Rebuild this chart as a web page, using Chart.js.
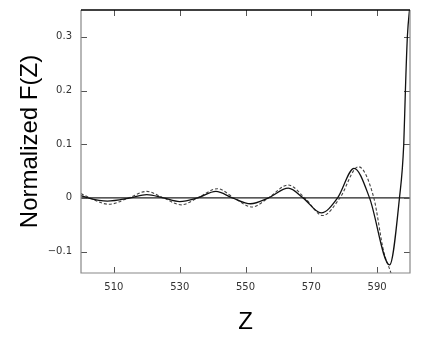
<!DOCTYPE html>
<html>
<head>
<meta charset="utf-8">
<script src="https://cdn.jsdelivr.net/npm/chart.js@4"></script>
<style>
  body { margin: 0; background: #fff; }
  #wrap { width: 440px; height: 348px; }
</style>
</head>
<body>
<div id="wrap"><canvas id="chart" width="440" height="348"></canvas></div>
<script>
// --- DATA ---
const xTicks = [510, 530, 550, 570, 590];
const yTicks = [-0.1, 0, 0.1, 0.2, 0.3];

const solidZ = [500, 502, 508, 515, 520, 525, 530, 535.5, 541, 546, 551.5, 557, 563, 567.5, 573, 578, 583, 587.7, 593.8, 596.8, 598.1, 598.6, 599.2, 600];
const solidF = [0.004, 0.0, -0.006, 0, 0.006, 0, -0.007, 0, 0.012, 0, -0.011, 0, 0.018, 0, -0.028, 0, 0.055, 0, -0.125, 0, 0.1, 0.2, 0.3, 0.36];

const dashedZ = [500, 502, 508.5, 514.5, 520, 525, 530.5, 535.5, 541.5, 546.5, 552, 557, 563, 568, 573.5, 578.7, 584.3, 589, 592, 594.2, 595.5];
const dashedF = [0.008, 0.002, -0.012, 0, 0.012, 0, -0.013, 0, 0.017, 0, -0.017, 0, 0.024, 0, -0.033, 0, 0.058, 0, -0.1, -0.14, -0.17];

const toPoints = (xs, ys) => xs.map((x, i) => ({ x: x, y: ys[i] }));

// --- FRAME, ZERO LINE AND INWARD TICKS ---
const framePlugin = {
    id: 'frame',
    beforeDatasetsDraw(chart) {
        const { ctx, chartArea: a, scales } = chart;
        const x = scales.x, y = scales.y;
        const len = 6;
        ctx.save();
        // zero line
        const y0 = y.getPixelForValue(0);
        ctx.strokeStyle = '#222';
        ctx.lineWidth = 1.3;
        ctx.beginPath();
        ctx.moveTo(a.left, y0);
        ctx.lineTo(a.right, y0);
        ctx.stroke();

        // ticks
        ctx.lineWidth = 1;
        ctx.strokeStyle = '#555';
        xTicks.forEach(v => {
            const px = Math.round(x.getPixelForValue(v)) + 0.5;
            ctx.beginPath();
            ctx.moveTo(px, a.bottom); ctx.lineTo(px, a.bottom - len);
            ctx.moveTo(px, a.top); ctx.lineTo(px, a.top + len);
            ctx.stroke();
        });
        yTicks.forEach(v => {
            const py = Math.round(y.getPixelForValue(v)) + 0.5;
            ctx.beginPath();
            ctx.moveTo(a.left, py); ctx.lineTo(a.left + len, py);
            ctx.moveTo(a.right, py); ctx.lineTo(a.right - len, py);
            ctx.stroke();
        });
        ctx.restore();
    },
    afterDatasetsDraw(chart) {
        const { ctx, chartArea: a } = chart;
        ctx.save();
        ctx.lineWidth = 1.2;
        ctx.strokeStyle = '#888';
        ctx.beginPath();
        ctx.moveTo(a.left, a.top); ctx.lineTo(a.left, a.bottom);
        ctx.lineTo(a.right, a.bottom); ctx.lineTo(a.right, a.top);
        ctx.stroke();
        ctx.strokeStyle = '#000';
        ctx.lineWidth = 1.5;
        ctx.beginPath();
        ctx.moveTo(a.left, a.top); ctx.lineTo(a.right, a.top);
        ctx.stroke();
        ctx.restore();
    }
};

const tickFont = { family: 'DejaVu Sans', size: 10 };

new Chart(document.getElementById('chart'), {
    type: 'line',
    data: {
        datasets: [
            {
                label: 'solid',
                data: toPoints(solidZ, solidF),
                borderColor: '#111',
                borderWidth: 1.3,
                pointRadius: 0,
                cubicInterpolationMode: 'monotone',
                fill: false
            },
            {
                label: 'dashed',
                data: toPoints(dashedZ, dashedF),
                borderColor: '#444',
                borderWidth: 1.1,
                borderDash: [3, 2],
                pointRadius: 0,
                cubicInterpolationMode: 'monotone',
                fill: false
            }
        ]
    },
    options: {
        responsive: false,
        animation: false,
        layout: { padding: { top: 10, right: 30, left: 0, bottom: 0 } },
        plugins: { legend: { display: false }, tooltip: { enabled: false } },
        scales: {
            x: {
                type: 'linear',
                min: 500,
                max: 600,
                afterBuildTicks: s => { s.ticks = xTicks.map(v => ({ value: v })); },
                afterFit: s => { s.height = 75; s.paddingLeft = 0; s.paddingRight = 0; },
                grid: { display: false, drawTicks: false },
                border: { display: false },
                ticks: { color: '#333', font: tickFont, padding: 8, maxRotation: 0 },
                title: {
                    display: true,
                    text: 'Z',
                    color: '#000',
                    font: { family: 'Liberation Sans', size: 24 },
                    padding: { bottom: 11 }
                }
            },
            y: {
                type: 'linear',
                min: -0.14,
                max: 0.35,
                afterBuildTicks: s => { s.ticks = yTicks.map(v => ({ value: v })); },
                afterFit: s => { s.width = 81; s.paddingTop = 0; s.paddingBottom = 0; },
                grid: { display: false, drawTicks: false },
                border: { display: false },
                ticks: {
                    color: '#333',
                    font: tickFont,
                    padding: 9,
                    callback: v => v === 0 ? '0' : (v < 0 ? '\u2212' + Math.abs(v).toFixed(1) : v.toFixed(1))
                },
                title: {
                    display: true,
                    text: 'Normalized F(Z)',
                    color: '#000',
                    font: { family: 'Liberation Sans', size: 24 },
                    padding: { top: 16 }
                }
            }
        }
    },
    plugins: [framePlugin]
});
</script>
</body>
</html>
